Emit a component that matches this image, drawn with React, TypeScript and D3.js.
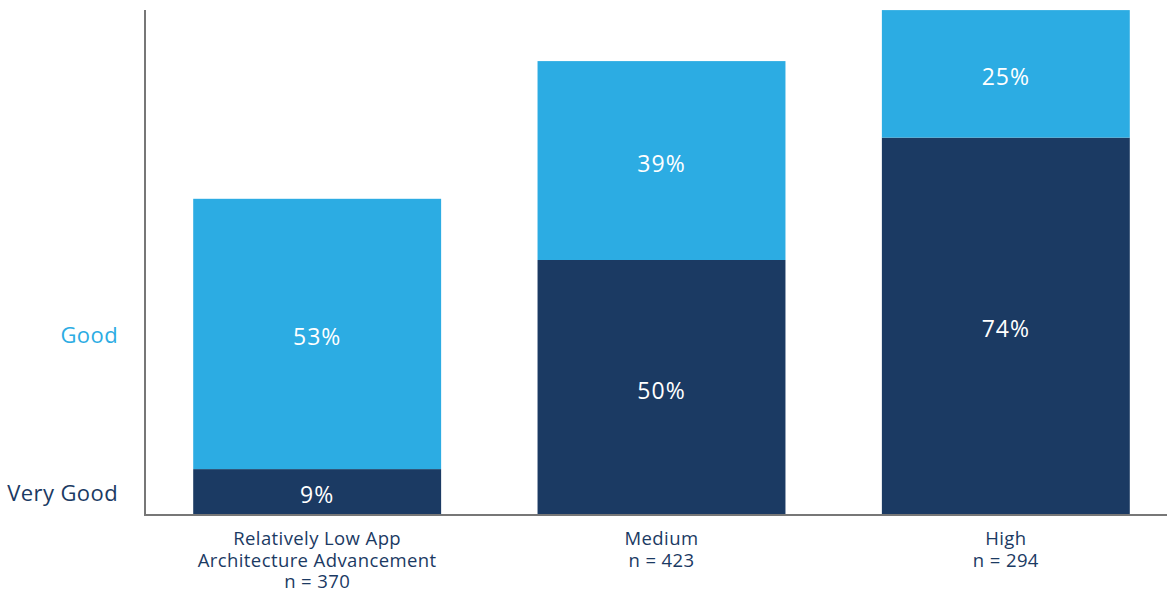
import React, { useEffect, useRef } from 'react';
import * as d3 from 'd3';

const categories = ['Relatively Low App Architecture Advancement', 'Medium', 'High'];
const categoryLines = [
  ['Relatively Low App', 'Architecture Advancement', 'n = 370'],
  ['Medium', 'n = 423'],
  ['High', 'n = 294'],
];
const veryGood = [9, 50, 74];
const good = [53, 39, 25];
const seriesNames = ['Very Good', 'Good'];

const DARK = '#1b3a63';
const LIGHT = '#2cace3';

const App: React.FC = () => {
  const svgRef = useRef<SVGSVGElement | null>(null);

  useEffect(() => {
    const svg = d3.select(svgRef.current);
    svg.selectAll('*').remove();

    const width = 1167;
    const base = 515;

    const x = d3.scaleBand<string>()
      .domain(categories)
      .range([145, 1178])
      .paddingInner(0.28)
      .paddingOuter(0.14);

    const y = d3.scaleLinear().domain([0, 100]).range([base, 5]);

    const rows = categories.map((c, i) => ({ cat: c, 'Very Good': veryGood[i], Good: good[i] }));
    const stack = d3.stack<any>().keys(seriesNames);
    const layers = stack(rows);
    const colors = [DARK, LIGHT];

    const g = svg.append('g');

    layers.forEach((layer, li) => {
      g.selectAll(`rect.s${li}`)
        .data(layer)
        .join('rect')
        .attr('x', (d: any) => x(d.data.cat)!)
        .attr('width', x.bandwidth())
        .attr('y', (d: any) => y(d[1]))
        .attr('height', (d: any) => y(d[0]) - y(d[1]))
        .attr('fill', colors[li]);

      g.selectAll(`text.v${li}`)
        .data(layer)
        .join('text')
        .attr('x', (d: any) => x(d.data.cat)! + x.bandwidth() / 2)
        .attr('y', (d: any) => (y(d[0]) + y(d[1])) / 2 + 3)
        .attr('dy', '0.35em')
        .attr('text-anchor', 'middle')
        .attr('fill', '#ffffff')
        .attr('font-size', 23)
        .attr('letter-spacing', 1)
        .text((d: any) => `${d[1] - d[0]}%`);
    });

    // series labels on the left, aligned with the first bar's segments
    layers.forEach((layer, li) => {
      const d: any = layer[0];
      g.append('text')
        .attr('x', 118)
        .attr('y', (y(d[0]) + y(d[1])) / 2 + 1)
        .attr('dy', '0.35em')
        .attr('text-anchor', 'end')
        .attr('fill', colors[li])
        .attr('font-size', 22)
        .attr('letter-spacing', 0.4)
        .text(seriesNames[li]);
    });

    // axes
    g.append('line')
      .attr('x1', 145).attr('x2', 145)
      .attr('y1', 10).attr('y2', base + 1)
      .attr('stroke', '#777').attr('stroke-width', 2);
    g.append('line')
      .attr('x1', 144).attr('x2', width)
      .attr('y1', base).attr('y2', base)
      .attr('stroke', '#777').attr('stroke-width', 2);

    // category labels, one text per line
    categories.forEach((c, i) => {
      categoryLines[i].forEach((line, j) => {
        g.append('text')
          .attr('x', x(c)! + x.bandwidth() / 2)
          .attr('y', 545 + j * 21.5)
          .attr('text-anchor', 'middle')
          .attr('fill', DARK)
          .attr('font-size', 18.5)
          .attr('letter-spacing', 0.4)
          .text(line);
      });
    });

    return () => {
      svg.selectAll('*').remove();
    };
  }, []);

  return (
    <svg
      ref={svgRef}
      width={1167}
      height={592}
      style={{ position: 'absolute', left: 0, top: 0, fontFamily: '"Open Sans", Lato, sans-serif' }}
    />
  );
};

export default App;
